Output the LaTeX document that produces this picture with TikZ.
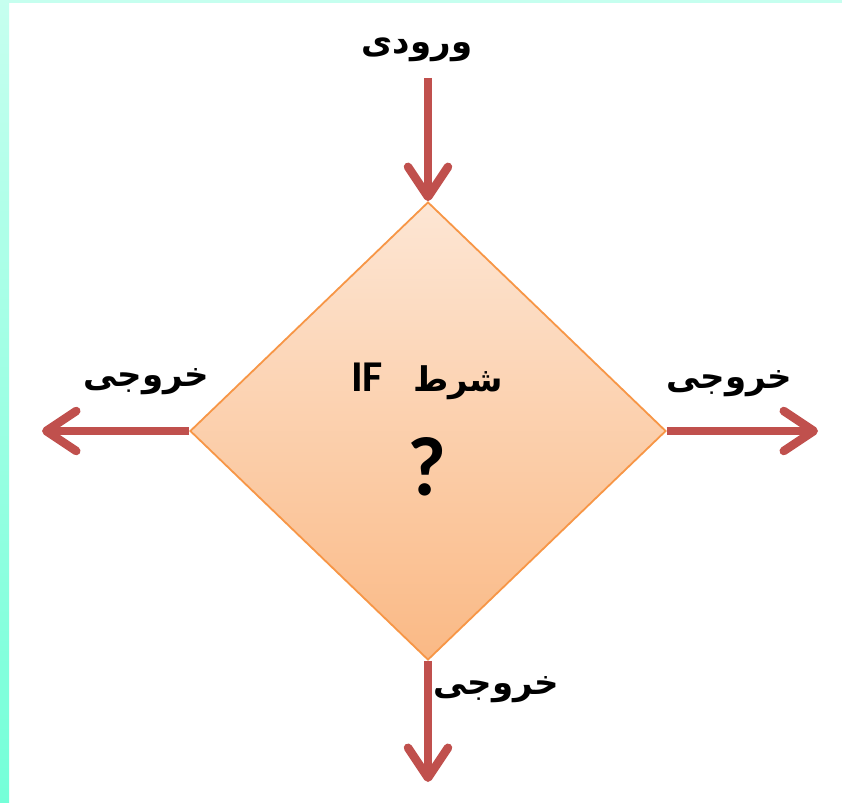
\documentclass[tikz,border=0pt]{standalone}
\usepackage{fontspec}
\usetikzlibrary{arrows.meta,shapes.geometric}
\TeXXeTstate=1
\newfontfamily\arabicfont[Script=Arabic]{DejaVu Sans}
\newfontfamily\latinfont{Carlito}
\definecolor{arrowred}{HTML}{C0504D}
\definecolor{edgeorange}{HTML}{F79646}
\definecolor{peachtop}{HTML}{FDE6D4}
\definecolor{peachbot}{HTML}{FAB985}
\definecolor{mintlight}{HTML}{C6FFEF}
\definecolor{mintdark}{HTML}{74FFD8}
\tikzset{
  flowarrow/.style={draw=arrowred, line width=8.5pt,
    -{Straight Barb[length=30pt,width=40pt,round]}},
  arlabel/.style={font=\arabicfont\bfseries\fontsize{34}{40}\selectfont, inner sep=0pt},
  decision/.style={shape=diamond, draw=edgeorange, line width=1.8pt,
    top color=peachtop, bottom color=peachbot,
    minimum width=476pt, minimum height=458pt, inner sep=0pt}
}
\begin{document}
\begin{tikzpicture}[x=1pt,y=-1pt]
  \useasboundingbox (0,0) rectangle (842,802);
  % page frame: white sheet with mint strips on the left and top
  \fill[white] (0,0) rectangle (842,802);
  \shade[top color=mintlight, bottom color=mintdark] (0,0) rectangle (9,802);
  \fill[mintlight] (0,0) rectangle (842,3);

  % decision box
  \node[decision] (cond) at (428,431) {};
  \node[inner sep=0pt] (condtext) at (427,381)
    {\arabicfont\bfseries\fontsize{34}{40}\selectfont\beginR شرط\hspace*{30pt}\beginL{\latinfont\bfseries\fontsize{44}{48}\selectfont IF}\endL\endR};
  \node[inner sep=0pt, font=\latinfont\bfseries\fontsize{84}{88}\selectfont] (qmark) at (427,467) {?};

  % arrow ends
  \coordinate (instart) at (428,78);
  \coordinate (leftend) at (42,431);
  \coordinate (rightend) at (818,431);
  \coordinate (downend) at (428,782);

  \draw[flowarrow] (instart) -- (cond.north);
  \draw[flowarrow] (cond.west) -- (leftend);
  \draw[flowarrow] (cond.east) -- (rightend);
  \draw[flowarrow] (cond.south) -- (downend);

  % labels
  \node[arlabel] (inlabel) at (417,50) {\beginR ورودی\endR};
  \node[arlabel] (leftlabel) at (146,382) {\beginR خروجی\endR};
  \node[arlabel] (rightlabel) at (729,384) {\beginR خروجی\endR};
  \node[arlabel] (downlabel) at (496,690) {\beginR خروجی\endR};
\end{tikzpicture}
\end{document}
